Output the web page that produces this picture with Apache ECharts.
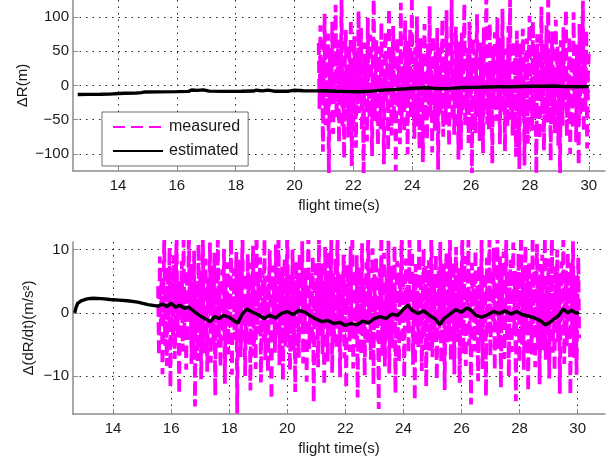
<!DOCTYPE html>
<html>
<head>
<meta charset="utf-8">
<script src="https://cdn.jsdelivr.net/npm/echarts@6/dist/echarts.min.js"></script>
<style>
  html, body { margin: 0; padding: 0; background: #fff; }
  #chart { width: 612px; height: 464px; }
</style>
</head>
<body>
<div id="chart"></div>
<script>
// Range error ΔR: raw radar measurements (sampled at a fixed rate) and the filter estimate
const rangeMeasuredStart = 20.82;
const rangeMeasuredEnd = 30.0;
const rangeMeasured = [
  62, -35, 88, -12, 41, -97, 23, 105, -58, 7, -44, 76, -131, 30, 54, -18, 93, -71, 12, -26,
  118, -49, 3, 67, -84, 39, -9, 128, -63, 21, -107, 46, 81, -33, 14, -76, 59, -2, 97, -118,
  35, -55, 72, 8, -91, 50, -27, 109, -40, 16, 84, -68, 27, -137, 63, -15, 44, -82, 99, -6,
  -47, 74, 19, -103, 31, 140, -52, 5, 66, -29, -88, 57, 11, -64, 92, -37, 25, -115, 48, 79,
  -21, 36, -96, 113, -8, 52, -73, 17, 87, -42, 60, -125, 9, 71, -31, 43, -86, 121, -56, 28,
  2, -69, 95, -24, 38, -101, 65, -11, 82, -48, 133, -39, 18, -78, 56, -4, 101, -60, 33, -93,
  69, -16, 45, -112, 26, 90, -53, 13, -80, 61, -28, 116, -45, 37, -98, 73, 6, -66, 50, -20,
  84, -123, 29, 58, -41, 10, 97, -75, 42, -3, -58, 110, -34, 22, -89, 67, -13, 126, -51, 39,
  -72, 15, 86, -26, 48, -108, 64, 1, -94, 77, -38, 31, 120, -62, 8, -43, 55, -84, 93, -19,
  40, -132, 70, -10, 53, -70, 24, 104, -46, 12, -81, 63, -23, 47, -99, 85, -30, 19, 142, -57,
  26, -64, 91, -7, 36, -114, 58, -35, 78, 4, -52, 99, -17, 43, -86, 70, -40, 112, -11, 32,
  -96, 54, 16, -60, 87, -27, 127, -50, 9, -73, 66, -14, 41, -104, 80, -36, 23, -122, 61, 5,
  -44, 83, 20, -117, 47, -9, 69, -85, 34, 102, -28, 11, -66, 94, -41, 58, 3, -129, 75, -22,
  50, -79, 14, 115, -37, 62, -95, 28, -5, 88, -54, 137, -18, 45, -110, 36, 79, -47, 21, -70,
  96, -12, 57, -88, 30, -141, 66, 8, -59, 85, -24, 49, 111, -75, 18, -38, 72, -100, 43, 1,
  -63, 107, -29, 39, -83, 60, 13, -117, 90, -43, 26, -6, 124, -68, 52, -31, 81, -92, 17, 46
];
// [flight time (s), ΔR (m)]
const rangeEstimated = [
  [12.63, -13.2], [13.0, -13.0], [13.4, -12.8], [13.7, -12.6], [13.75, -11.6], [14.2, -11.4],
  [14.6, -11.2], [14.8, -10.4], [14.9, -9.4], [15.4, -9.3], [16.0, -9.0], [16.4, -8.6],
  [16.5, -6.5], [16.7, -7.2], [16.9, -6.4], [17.1, -8.2], [17.6, -8.6], [18.2, -8.5],
  [18.6, -8.1], [18.7, -6.9], [18.9, -7.8], [19.1, -6.8], [19.3, -8.3], [19.8, -8.3],
  [20.0, -7.0], [20.3, -7.6], [20.8, -7.8], [21.0, -7.6], [21.4, -8.5], [21.8, -8.9],
  [22.2, -9.2], [22.6, -8.2], [23.0, -6.8], [23.4, -5.9], [23.8, -4.8], [24.2, -3.6],
  [24.5, -3.2], [24.9, -4.6], [25.3, -4.2], [25.7, -3.0], [26.1, -2.8], [26.5, -2.2],
  [26.9, -1.9], [27.3, -2.0], [27.7, -1.4], [28.1, -1.0], [28.5, -1.2], [28.8, -0.7],
  [29.2, -1.6], [29.6, -1.8], [30.0, -1.6]
];

// Range-rate-rate error Δ(dR/dt)
const accelMeasuredStart = 15.55;
const accelMeasuredEnd = 30.05;
const accelMeasured = [
  4.2, -6.8, 8.9, -2.1, 5.6, -9.7, 1.3, 12.4, -5.2, 3.1, -8.4, 7.2, -1.6, 10.3, -11.8, 2.7, 6.5, -4.0, 9.1, -7.3,
  0.8, 13.6, -3.5, 5.0, -12.9, 4.7, -0.9, 8.2, -6.1, 11.5, -2.8, 3.9, -9.0, 6.8, -4.6, 14.2, -1.2, 7.7, -8.1, 2.3,
  -5.9, 9.8, -14.8, 4.4, 1.9, -7.6, 10.9, -3.0, 6.1, -10.5, 3.3, 12.0, -6.4, 0.5, 8.6, -2.4, -9.3, 5.3, -0.2, 11.1,
  -7.9, 2.9, 7.4, -4.9, 9.5, -13.1, 3.6, -1.8, 13.0, -5.5, 4.9, -8.7, 1.1, 6.9, -3.2, 10.1, -11.2, 5.8, -0.6, 8.0,
  -6.6, 3.0, -2.5, 11.8, -9.8, 4.1, 7.0, -4.3, 0.2, 9.6, -15.9, 5.1, -1.4, 8.4, -7.0, 2.5, 12.7, -3.8, 6.3, -10.0,
  1.6, -5.0, 9.3, -2.0, 4.6, -12.3, 7.9, -0.4, 10.6, -6.9, 3.7, -8.9, 13.9, -3.4, 5.4, -1.0, 8.8, -11.0, 2.0, 6.6,
  -4.4, 11.7, -7.5, 0.9, 5.9, -9.4, 3.4, 9.9, -2.7, -13.7, 7.5, -0.7, 4.3, -6.3, 10.8, -3.9, 1.8, 12.9, -8.3, 5.2,
  -1.9, 7.3, -10.7, 3.8, 8.5, -5.3, 0.4, 14.6, -4.1, 6.0, -9.1, 2.6, -2.9, 10.0, -6.0, 4.0, -12.5, 8.1, -0.1, 5.7,
  -7.1, 9.4, -3.3, 1.2, 11.3, -8.0, 4.8, -1.5, 7.1, -10.9, 3.2, 13.3, -5.7, 0.6, 6.7, -4.8, 9.0, -14.2, 2.2, 8.3,
  -2.2, 5.5, -8.6, 12.2, -3.6, 1.5, 7.8, -6.5, 3.5, -11.5, 10.4, -0.8, 4.5, -7.7, 9.7, -2.6, 0.0, 11.9, -9.5, 6.2,
  -4.7, 2.8, 8.7, -5.8, 13.4, -1.1, 4.9, -10.2, 6.4, -3.1, 1.0, 9.2, -7.2, 3.9, -12.0, 7.6, -0.3, 5.0, -6.2, 10.5,
  -2.3, 12.5, -8.8, 1.4, 6.8, -4.5, 9.1, -13.4, 3.0, -1.7, 7.2, -6.7, 11.0, -3.7, 4.2, -9.9, 0.7, 8.0, -5.1, 14.0,
  -0.5, 5.3, -7.4, 2.4, 10.2, -11.4, 6.1, -2.0, 8.9, -4.2, 1.7, -15.2, 7.0, -1.3, 12.3, -6.8, 3.6, 9.5, -8.5, 0.3,
  5.8, -3.5, 11.4, -9.6, 2.1, 7.4, -5.6, 4.7, -0.9, 10.7, -12.7, 3.2, 8.2, -2.8, -7.8, 6.5, 1.9, 13.1, -4.9, 5.1,
  -10.3, 2.7, 8.6, -1.6, 4.4, -6.4, 11.6, -3.0, 0.9, 9.8, -8.2, 5.6, -13.9, 7.7, -0.2, 3.5, -5.4, 12.1, -2.4, 6.0,
  -9.2, 1.3, 10.1, -4.0, 7.5, -11.7, 4.1, -1.2, 8.3, -6.0, 2.9, 14.4, -7.0, 0.1, 5.9, -3.9, 9.3, -10.6, 3.3, 6.9,
  -2.5, 11.2, -8.0, 4.6, -0.7, 7.8, -12.2, 2.0, 9.6, -5.0, 1.6, -3.3, 12.8, -7.6, 5.2, -1.4, 8.1, -9.7, 3.7, 10.4,
  -4.6, 0.5, 7.1, -11.1, 6.3, -2.1, 13.7, -6.6, 2.5, 9.0, -8.4, 4.0, -0.4, 11.5, -5.2, 3.1, -14.5, 7.9, 1.0, 5.4,
  -6.1, 9.9, -1.8, 4.3, -10.8, 7.6, 2.1, -4.4, 12.6, -8.9, 3.4, -0.6, 6.4, -13.2, 8.7, -2.7, 5.0, 11.6, -6.9, 0.9,
  7.0, -3.1, 10.3, -9.1, 4.8, -0.8, 13.5, -5.7, 2.3, 8.9, -11.9, 6.0, -2.2, 9.7, -7.3, 1.4, 12.0, -4.3, 5.5, -10.1,
  3.8, 8.4, -6.2, 0.3, 11.1, -3.6, 6.6, -14.0, 4.6, -1.2, 9.4, -7.9, 2.7, 13.8, -5.0, 7.3, -9.0, 1.1, 10.6, -2.9,
  5.3, -12.4, 8.0, -0.5, 3.9, -6.6, 12.2, -3.4, 6.9, -8.6, 1.8, 10.9, -4.9, 4.5, -11.3, 7.7, -1.6, 9.2, -5.9, 2.6,
  11.9, -7.4, 4.0, -2.0, 8.6, -10.4, 5.7, 0.0, 13.2, -6.3, 2.9, -9.3, 7.4, -0.9, 10.0, -4.6, 6.2, -12.8, 3.5, 8.1,
  -3.0, 12.9, -8.1, 1.9, 6.7, -5.3, 9.6, -1.4, 4.2, -13.0, 7.9, -2.5, 11.3, -7.1, 3.2, 5.9, -9.8, 0.6, 8.8, -4.0
];
// [flight time (s), Δ(dR/dt) (m/s²)]
const accelEstimated = [
  [12.68, 0.0], [12.72, 0.8], [12.78, 1.5], [12.9, 1.9], [13.1, 2.2], [13.3, 2.3], [13.6, 2.25],
  [13.9, 2.1], [14.2, 2.0], [14.5, 1.9], [14.85, 1.7], [15.2, 1.3], [15.55, 1.05], [15.7, 1.4],
  [15.85, 1.0], [16.0, 1.5], [16.15, 0.9], [16.3, 1.2], [16.45, 0.7], [16.6, 0.9], [16.8, 0.2],
  [17.0, -0.5], [17.2, -1.0], [17.35, -1.4], [17.5, -0.6], [17.65, -0.9], [17.8, -0.4], [18.0, -0.7],
  [18.15, -1.2], [18.3, -1.6], [18.45, -0.2], [18.6, 0.6], [18.8, 0.1], [19.0, -0.3], [19.2, -0.9],
  [19.4, -0.4], [19.6, -0.8], [19.8, -0.1], [20.0, 0.2], [20.2, -0.3], [20.4, 0.4], [20.6, 0.1],
  [20.8, -0.5], [21.0, -1.0], [21.2, -1.4], [21.4, -1.2], [21.6, -1.7], [21.8, -1.5], [22.0, -2.0],
  [22.2, -1.7], [22.4, -1.9], [22.6, -1.3], [22.8, -1.6], [23.0, -0.9], [23.2, -0.6], [23.4, -0.9],
  [23.6, -0.2], [23.8, -0.4], [24.0, 0.6], [24.15, 1.2], [24.3, 0.4], [24.5, -0.1], [24.7, 0.3],
  [24.9, -0.4], [25.1, -1.0], [25.25, -1.9], [25.4, -0.9], [25.6, -0.2], [25.8, 0.5], [26.0, 0.1],
  [26.2, 0.8], [26.35, 0.3], [26.5, -0.4], [26.7, -0.7], [26.9, -0.3], [27.1, 0.2], [27.3, -0.1],
  [27.5, 0.3], [27.7, -0.2], [27.9, 0.2], [28.1, -0.3], [28.3, -0.5], [28.5, -0.8], [28.7, -1.2],
  [28.9, -1.9], [29.05, -1.5], [29.2, -0.9], [29.35, -0.4], [29.5, 0.6], [29.65, 0.0], [29.8, 0.4],
  [29.95, -0.1], [30.05, 0.1]
];

// Tick labels
const timeTicks = [14, 16, 18, 20, 22, 24, 26, 28, 30];
const rangeTicks = [-100, -50, 0, 50, 100];
const accelTicks = [-10, 0, 10];

// Pair uniformly sampled measurements with their time stamps
function sampled(values, t0, t1) {
  const step = (t1 - t0) / (values.length - 1);
  return values.map((v, i) => [t0 + i * step, v]);
}

const FONT = 'Liberation Sans, Arial, sans-serif';
const TEXT = '#1a1a1a';
const AXIS = '#8c8c8c';
const minus = v => String(v).replace('-', '\u2212');

function timeAxis(gridIndex, min, max) {
  return {
    type: 'value', gridIndex, min, max,
    name: 'flight time(s)', nameLocation: 'middle', nameGap: 27, nameMoveOverlap: false,
    nameTextStyle: { fontFamily: FONT, fontSize: 15, color: TEXT },
    axisLine: { show: true, onZero: false, lineStyle: { color: AXIS, width: 1.5 } },
    axisTick: { show: true, inside: true, length: 5, customValues: timeTicks, lineStyle: { color: AXIS } },
    axisLabel: { customValues: timeTicks, margin: 7, fontFamily: FONT, fontSize: 15, color: TEXT },
    splitLine: { show: true, lineStyle: { color: '#222', width: 1, type: [1.5, 5] } }
  };
}

function valueAxis(gridIndex, min, max, ticks, name, nameGap) {
  return {
    type: 'value', gridIndex, min, max,
    name, nameLocation: 'middle', nameGap, nameMoveOverlap: false,
    nameTextStyle: { fontFamily: FONT, fontSize: 15, color: TEXT },
    axisLine: { show: true, onZero: false, lineStyle: { color: AXIS, width: 1.5 } },
    axisTick: { show: true, inside: true, length: 5, customValues: ticks, lineStyle: { color: AXIS } },
    axisLabel: { customValues: ticks, formatter: minus, margin: 4, fontFamily: FONT, fontSize: 15, color: TEXT },
    splitLine: { show: true, lineStyle: { color: '#222', width: 1, type: [1.5, 5] } }
  };
}

const measuredStyle = { color: '#ff00ff', width: 3.8, type: [12, 6] };
const estimatedStyle = { color: '#000000', width: 3.4 };

const chart = echarts.init(document.getElementById('chart'), null, { renderer: 'canvas' });
chart.setOption({
  animation: false,
  backgroundColor: '#ffffff',
  grid: [
    { left: 73, top: 0, width: 532, height: 171 },
    { left: 73, top: 242, width: 532, height: 172 }
  ],
  xAxis: [timeAxis(0, 12.47, 30.55), timeAxis(1, 12.62, 30.94)],
  yAxis: [
    valueAxis(0, -125, 125, rangeTicks, 'ΔR(m)', 43),
    valueAxis(1, -16, 11.2, accelTicks, 'Δ(dR/dt)(m/s²)', 37)
  ],
  legend: {
    data: ['measured', 'estimated'],
    orient: 'vertical',
    left: 102, top: 112,
    padding: [7, 8, 7, 10],
    itemWidth: 50, itemHeight: 14, itemGap: 8,
    backgroundColor: '#ffffff',
    borderColor: '#6e6e6e', borderWidth: 1,
    itemStyle: { color: 'rgba(0,0,0,0)', borderWidth: 0 },
    textStyle: { fontFamily: FONT, fontSize: 16, color: TEXT, padding: [0, 0, 0, 1] }
  },
  series: [
    {
      name: 'measured', type: 'line', xAxisIndex: 0, yAxisIndex: 0,
      data: sampled(rangeMeasured, rangeMeasuredStart, rangeMeasuredEnd),
      symbol: 'none', lineStyle: measuredStyle, itemStyle: { color: '#ff00ff' }, z: 2
    },
    {
      name: 'estimated', type: 'line', xAxisIndex: 0, yAxisIndex: 0,
      data: rangeEstimated,
      symbol: 'none', lineStyle: estimatedStyle, itemStyle: { color: '#000' }, z: 3
    },
    {
      name: 'measured', type: 'line', xAxisIndex: 1, yAxisIndex: 1,
      data: sampled(accelMeasured, accelMeasuredStart, accelMeasuredEnd),
      symbol: 'none', lineStyle: measuredStyle, itemStyle: { color: '#ff00ff' }, z: 2
    },
    {
      name: 'estimated', type: 'line', xAxisIndex: 1, yAxisIndex: 1,
      data: accelEstimated,
      symbol: 'none', lineStyle: estimatedStyle, itemStyle: { color: '#000' }, z: 3
    }
  ]
});
</script>
</body>
</html>
